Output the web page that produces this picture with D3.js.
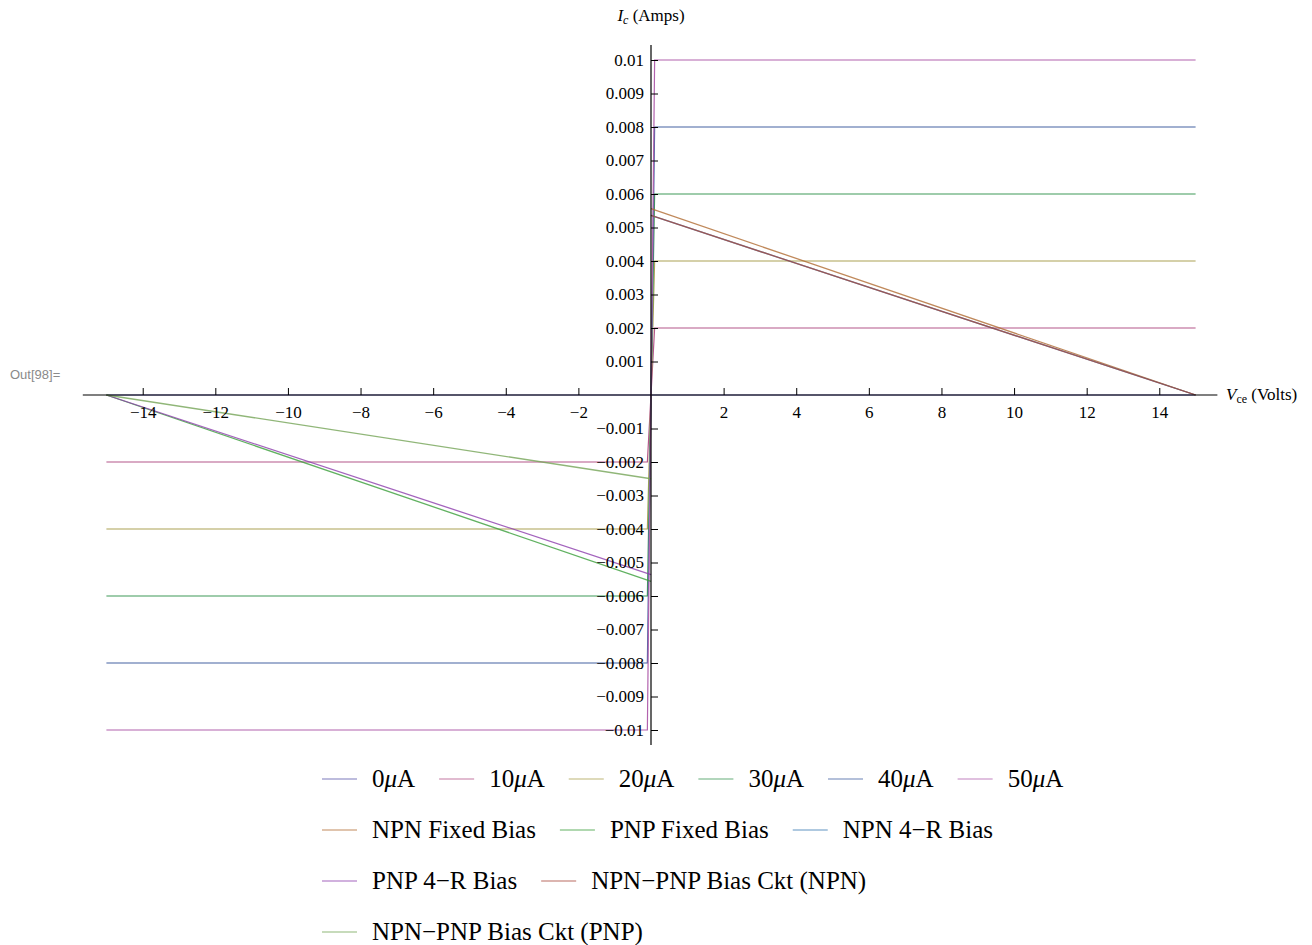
<!DOCTYPE html>
<html>
<head>
<meta charset="utf-8">
<script src="https://cdn.jsdelivr.net/npm/d3@7"></script>
<style>
  body { margin: 0; background: #fff; }
  svg { display: block; }
</style>
</head>
<body>
<svg id="chart" width="1312" height="945"></svg>
<script>
// ---- data ----
var seriesNames = ["0μA", "10μA", "20μA", "30μA", "40μA", "50μA",
  "NPN Fixed Bias", "PNP Fixed Bias", "NPN 4−R Bias",
  "PNP 4−R Bias", "NPN−PNP Bias Ckt (NPN)", "NPN−PNP Bias Ckt (PNP)"];

var seriesColors = ["#5a58aa", "#b4568a", "#aca154", "#3f9a58", "#4562a2", "#b262ae",
  "#b06c32", "#3a9e3a", "#3878b0", "#8c3cac", "#a8463a", "#74a456"];

// characteristic curves (Vce, Ic)
var curveVce = [-15, -0.1, 0, 0.1, 15];
var curveIc = [
  [0, 0, 0, 0, 0],
  [-0.002, -0.002, 0, 0.002, 0.002],
  [-0.004, -0.004, 0, 0.004, 0.004],
  [-0.006, -0.006, 0, 0.006, 0.006],
  [-0.008, -0.008, 0, 0.008, 0.008],
  [-0.01, -0.01, 0, 0.01, 0.01]
];

// load lines (Vce, Ic)
var loadVce = [[0, 15], [-15, 0], [0, 15], [-15, 0], [0, 15], [-15, 0]];
var loadIc = [
  [0.00556, 0], [0, -0.00556],
  [0.00536, 0], [0, -0.00536],
  [0.00536, 0], [0, -0.0025]
];

var xTicks = [-14, -12, -10, -8, -6, -4, -2, 2, 4, 6, 8, 10, 12, 14];
var xTickLabels = ["−14", "−12", "−10", "−8", "−6", "−4", "−2", "2", "4", "6", "8", "10", "12", "14"];
var yTicks = [-0.01, -0.009, -0.008, -0.007, -0.006, -0.005, -0.004, -0.003, -0.002, -0.001,
  0.001, 0.002, 0.003, 0.004, 0.005, 0.006, 0.007, 0.008, 0.009, 0.01];
var yTickLabels = ["−0.01", "−0.009", "−0.008", "−0.007", "−0.006", "−0.005", "−0.004", "−0.003", "−0.002", "−0.001",
  "0.001", "0.002", "0.003", "0.004", "0.005", "0.006", "0.007", "0.008", "0.009", "0.01"];

var legendRows = [[0, 1, 2, 3, 4, 5], [6, 7, 8], [9, 10], [11]];

// ---- drawing ----
var serif = "'Liberation Serif', 'Times New Roman', serif";
var svg = d3.select("#chart");

var x = d3.scaleLinear().domain([-15, 15]).range([106.4, 1195.6]);
var y = d3.scaleLinear().domain([-0.01, 0.01]).range([730, 60]);

var line = d3.line()
  .x(function(d) { return x(d[0]); })
  .y(function(d) { return y(d[1]); });

var plot = svg.append("g");

curveIc.forEach(function(ics, i) {
  var pts = curveVce.map(function(v, j) { return [v, ics[j]]; });
  plot.append("path")
    .attr("d", line(pts))
    .attr("fill", "none")
    .attr("stroke", seriesColors[i])
    .attr("stroke-width", 1.2);
});

loadIc.forEach(function(ics, i) {
  var pts = loadVce[i].map(function(v, j) { return [v, ics[j]]; });
  plot.append("path")
    .attr("d", line(pts))
    .attr("fill", "none")
    .attr("stroke", seriesColors[6 + i])
    .attr("stroke-opacity", 0.8)
    .attr("stroke-width", 1.3);
});

// axes
svg.append("line")
  .attr("x1", x(-15.65)).attr("x2", x(15.6))
  .attr("y1", y(0)).attr("y2", y(0))
  .attr("stroke", "#000").attr("stroke-width", 1.2);
svg.append("line")
  .attr("x1", x(0)).attr("x2", x(0))
  .attr("y1", y(0.01045)).attr("y2", y(-0.01045))
  .attr("stroke", "#000").attr("stroke-width", 1.2);

var gx = svg.append("g")
  .attr("transform", "translate(0," + y(0) + ")")
  .call(d3.axisBottom(x)
    .tickValues(xTicks)
    .tickFormat(function(d, i) { return xTickLabels[i]; })
    .tickSizeInner(-7).tickSizeOuter(0).tickPadding(11));
gx.select(".domain").remove();

var gy = svg.append("g")
  .attr("transform", "translate(" + x(0) + ",0)")
  .call(d3.axisLeft(y)
    .tickValues(yTicks)
    .tickFormat(function(d, i) { return yTickLabels[i]; })
    .tickSizeInner(-7).tickSizeOuter(0).tickPadding(7));
gy.select(".domain").remove();

svg.selectAll(".tick text")
  .attr("font-family", serif)
  .attr("font-size", 17)
  .attr("fill", "#000");
svg.selectAll(".tick line").attr("stroke", "#000");

// axis labels
var yl = svg.append("text")
  .attr("x", x(0)).attr("y", 21)
  .attr("text-anchor", "middle")
  .attr("font-family", serif).attr("font-size", 17);
yl.append("tspan").attr("font-style", "italic").text("I");
yl.append("tspan").attr("font-style", "italic").attr("font-size", 12).attr("dy", 3).text("c");
yl.append("tspan").attr("dy", -3).text(" (Amps)");

var xl = svg.append("text")
  .attr("x", 1226).attr("y", 400)
  .attr("font-family", serif).attr("font-size", 17);
xl.append("tspan").attr("font-style", "italic").text("V");
xl.append("tspan").attr("font-size", 12).attr("dy", 3).text("ce");
xl.append("tspan").attr("dy", -3).text(" (Volts)");

svg.append("text")
  .attr("x", 10).attr("y", 379)
  .attr("font-family", "'Liberation Sans', Arial, sans-serif")
  .attr("font-size", 13)
  .attr("fill", "#8a8a8a")
  .text("Out[98]=");

// legend
var rowY = [779, 830, 881, 932];
legendRows.forEach(function(row, r) {
  var cx = 322;
  row.forEach(function(k) {
    svg.append("line")
      .attr("x1", cx).attr("x2", cx + 35)
      .attr("y1", rowY[r]).attr("y2", rowY[r])
      .attr("stroke", seriesColors[k]).attr("stroke-opacity", 0.8)
      .attr("stroke-width", 1.2);
    var t = svg.append("text")
      .attr("x", cx + 50).attr("y", rowY[r] + 8)
      .attr("font-family", serif).attr("font-size", 25);
    var parts = seriesNames[k].split("μ");
    t.append("tspan").text(parts[0]);
    if (parts.length > 1) {
      t.append("tspan").attr("font-style", "italic").text("μ");
      t.append("tspan").text(parts[1]);
    }
    cx = cx + 50 + t.node().getComputedTextLength() + 24;
  });
});
</script>
</body>
</html>
